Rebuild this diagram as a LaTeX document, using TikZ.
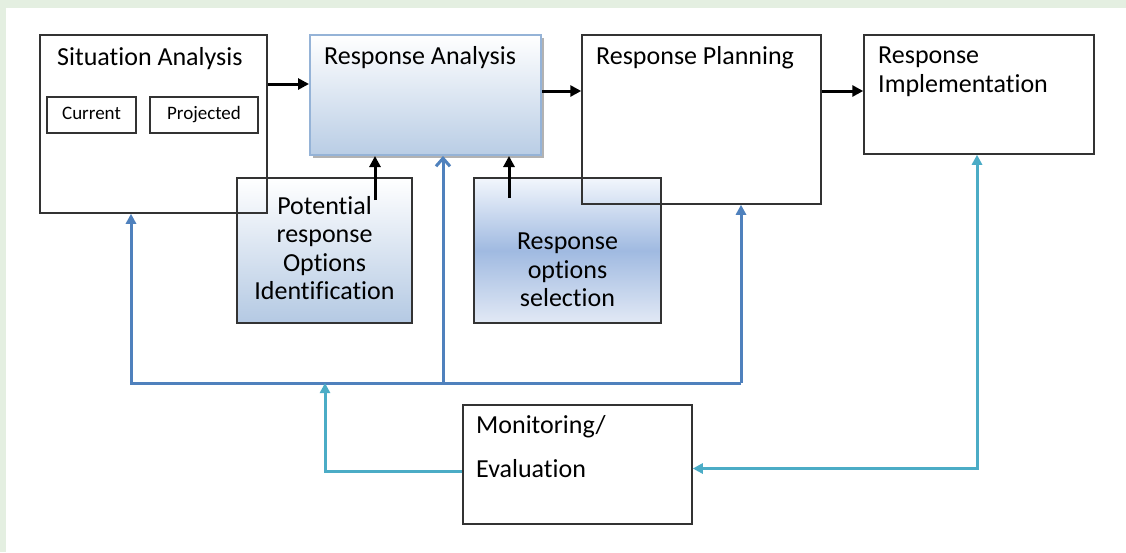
\documentclass[tikz,border=0pt]{standalone}
\usepackage{fontspec}
\setmainfont[Ligatures={NoCommon,NoRequired,NoContextual},RawFeature={-liga;-clig;-calt}]{Carlito}
\usetikzlibrary{arrows.meta,shadows}
\definecolor{bandgreen}{RGB}{228,239,225}
\definecolor{fbblue}{RGB}{79,129,189}
\definecolor{moncyan}{RGB}{75,172,198}
\definecolor{raedge}{RGB}{149,179,215}
\definecolor{rablue}{RGB}{185,205,229}
\definecolor{potblue}{RGB}{180,201,227}
\definecolor{seltop}{RGB}{242,246,252}
\definecolor{selmid}{RGB}{160,186,225}
\definecolor{selbot}{RGB}{226,233,245}
\begin{document}
\begin{tikzpicture}[x=1pt,y=-1pt,
	box/.style={draw=black!80, line width=1.5pt, inner sep=0pt},
	txt/.style={inner sep=0pt, font=\fontsize{26}{28.5}\selectfont},
	small/.style={font=\fontsize{19}{22}\selectfont, text height=13pt, text depth=4pt},
	blk/.style={line width=3pt, -{Triangle[length=11pt,width=11pt]}},
	fb/.style={fbblue, line width=3pt},
	mon/.style={moncyan, line width=3pt}]
		\useasboundingbox (0,0) rectangle (1126,552);
		\fill[white] (0,0) rectangle (1126,552);
		\fill[bandgreen] (0,0) rectangle (1126,8);
		\fill[bandgreen] (0,0) rectangle (6,552);

			\node[box, minimum width=175pt, minimum height=145pt, top color=white, bottom color=potblue] (pot) at (324.5,250.5) {};
			\node[box, minimum width=187pt, minimum height=145pt, top color=seltop, bottom color=selbot, middle color=selmid] (sel) at (567.5,250.5) {};
		\node[box, minimum width=227pt, minimum height=178pt] (sit) at (153.5,124) {};
			\node[box, small, minimum width=89pt, minimum height=36pt] (cur) at (91.5,115) {Current};
			\node[box, small, minimum width=108pt, minimum height=36pt] (proj) at (204,115) {Projected};
		\node[draw=raedge, line width=2pt, inner sep=0pt, minimum width=231pt, minimum height=120pt, top color=white, bottom color=rablue,
			general shadow={shadow xshift=2.5pt, shadow yshift=-2.5pt, fill=black!30}] (ra) at (425.5,95) {};
		\node[box, minimum width=239pt, minimum height=169pt] (rp) at (701.5,119.5) {};
		\node[box, minimum width=230pt, minimum height=119pt] (ri) at (979,94.5) {};
		\node[box, minimum width=229pt, minimum height=119pt] (me) at (577.5,464.5) {};

		\node[txt, anchor=base west] (sitlab) at (57,65) {Situation Analysis};
		\node[txt, anchor=base west] (ralab) at (324,64) {Response Analysis};
		\node[txt, anchor=base west] (rplab) at (596,64) {Response Planning};
		\node[txt, anchor=base west, align=left] (rilab) at (878,92) {Response\\Implementation};
		\node[txt, align=center] (potlab) at (324.5,248) {Potential\\response\\Options\\Identification};
		\node[txt, align=center] (sellab) at (567.5,270) {Response\\options\\selection};
		\node[txt, anchor=base west] (melab) at (476,433) {Monitoring/};
		\node[txt, anchor=base west] (melab2) at (476,477) {Evaluation};

		\coordinate (potout) at (375,200);
		\coordinate (selout) at (509,198);
		\coordinate (fbl) at (131,383);
		\coordinate (fbm) at (443,383);
		\coordinate (fbr) at (741,383);
		\coordinate (fbc) at (325,383);

		\draw[blk] (sit.east |- 0,84) -- (ra.west |- 0,84);
		\draw[blk] (ra.east |- 0,91) -- (rp.west |- 0,91);
		\draw[blk] (rp.east |- 0,91) -- (ri.west |- 0,91);
		\draw[blk] (potout) -- (potout |- ra.south);
		\draw[blk] (selout) -- (selout |- ra.south);

		\draw[fb, -{Triangle[length=10pt,width=10pt]}] (fbr) -- (fbl) -- (fbl |- sit.south);
		\draw[fb, -{Triangle[length=10pt,width=10pt]}] (fbr) -- (fbr |- rp.south);
		\draw[fb, -{Straight Barb[length=8pt,width=14pt]}] (fbm) -- (fbm |- ra.south);

		\draw[mon, -{Triangle[length=10pt,width=10pt]}] ([yshift=-7pt]me.west) -| (fbc);
		\draw[mon, {Triangle[length=10pt,width=10pt]}-{Triangle[length=10pt,width=10pt]}] (ri.south -| 977,0) |- ([yshift=-4pt]me.east);
\end{tikzpicture}
\end{document}
